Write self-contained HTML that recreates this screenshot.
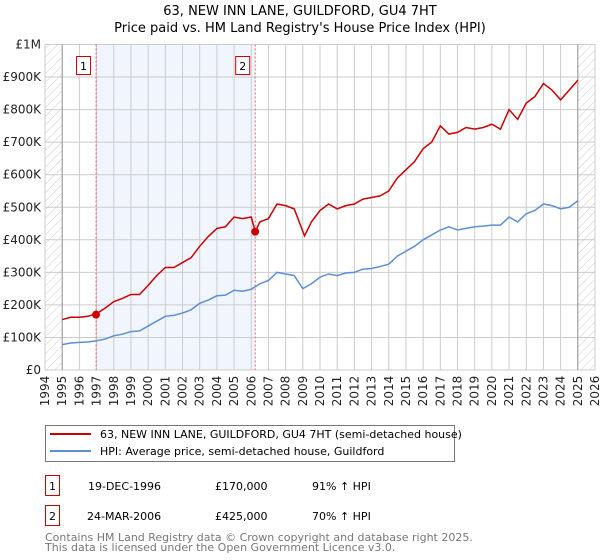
<!DOCTYPE html>
<html><head><meta charset="utf-8"><style>
body{margin:0;background:#fff;font-family:"Liberation Sans","DejaVu Sans",sans-serif;}
#c{position:relative;width:600px;height:560px;}
</style></head><body>
<div id="c">
<svg id="s" width="600" height="560" xmlns="http://www.w3.org/2000/svg" style="position:absolute;left:0;top:0;font-family:'DejaVu Sans','Liberation Sans',sans-serif">
<defs><pattern id="h" width="6" height="6" patternUnits="userSpaceOnUse" patternTransform="rotate(45)"><line x1="0" y1="0" x2="0" y2="6" stroke="#ccc" stroke-width="1"/></pattern></defs>
<text x="300" y="15" text-anchor="middle" font-size="13">63, NEW INN LANE, GUILDFORD, GU4 7HT</text>
<text x="300" y="32" text-anchor="middle" font-size="13">Price paid vs. HM Land Registry's House Price Index (HPI)</text>
<g id="plot"></g>
</svg>
<svg width="600" height="560" style="position:absolute;left:0;top:0;font-family:'DejaVu Sans','Liberation Sans',sans-serif">
<g>
<rect x="45.5" y="425.5" width="409" height="36" fill="#fff" stroke="#777"/>
<line x1="50" y1="434" x2="91" y2="434" stroke="#cc0000" stroke-width="2"/>
<text x="100" y="438" font-size="11">63, NEW INN LANE, GUILDFORD, GU4 7HT (semi-detached house)</text>
<line x1="50" y1="451" x2="91" y2="451" stroke="#5b8fd6" stroke-width="2"/>
<text x="100" y="455" font-size="11">HPI: Average price, semi-detached house, Guildford</text>
</g>
<g>
<rect x="45.5" y="475.5" width="14" height="20" fill="#fff" stroke="#cc0000"/>
<text x="52.5" y="490" font-size="11" text-anchor="middle">1</text>
<text x="88" y="490" font-size="11">19-DEC-1996</text>
<text x="215" y="490" font-size="11">£170,000</text>
<text x="312" y="490" font-size="11">91% ↑ HPI</text>
</g>
<g>
<rect x="45.5" y="505.5" width="14" height="20" fill="#fff" stroke="#cc0000"/>
<text x="52.5" y="520" font-size="11" text-anchor="middle">2</text>
<text x="87" y="520" font-size="11">24-MAR-2006</text>
<text x="215" y="520" font-size="11">£425,000</text>
<text x="312" y="520" font-size="11">70% ↑ HPI</text>
</g>
<text x="45" y="541" font-size="11" fill="#777">Contains HM Land Registry data © Crown copyright and database right 2025.</text>
<text x="45" y="551" font-size="11" fill="#777">This data is licensed under the Open Government Licence v3.0.</text>
</svg>
</div>
<script>
const years=[1995,1995.5,1996,1996.5,1997,1997.5,1998,1998.5,1999,1999.5,2000,2000.5,2001,2001.5,2002,2002.5,2003,2003.5,2004,2004.5,2005,2005.5,2006,2006.5,2007,2007.5,2008,2008.5,2009,2009.5,2010,2010.5,2011,2011.5,2012,2012.5,2013,2013.5,2014,2014.5,2015,2015.5,2016,2016.5,2017,2017.5,2018,2018.5,2019,2019.5,2020,2020.5,2021,2021.5,2022,2022.5,2023,2023.5,2024,2024.5,2025];
const hpi=[78,83,85,86,90,95,105,110,118,120,135,150,165,168,175,185,205,215,228,230,245,242,248,265,275,300,295,290,250,265,285,295,290,298,300,310,312,318,325,350,365,380,400,415,430,440,430,435,440,442,445,445,470,455,480,490,510,505,495,500,520];
const propYears=[1995,1995.5,1996,1996.5,1997,1997.5,1998,1998.5,1999,1999.5,2000,2000.5,2001,2001.5,2002,2002.5,2003,2003.5,2004,2004.5,2005,2005.5,2006,2006.23,2006.5,2007,2007.5,2008,2008.5,2009.1,2009.5,2010,2010.5,2011,2011.5,2012,2012.5,2013,2013.5,2014,2014.5,2015,2015.5,2016,2016.5,2017,2017.5,2018,2018.5,2019,2019.5,2020,2020.5,2021,2021.5,2022,2022.5,2023,2023.5,2024,2024.5,2025];
const prop=[155,162,162,165,173,190,210,220,232,232,260,290,315,315,330,345,380,410,435,440,470,465,470,425,455,465,510,505,495,412,455,490,510,495,505,510,525,530,535,550,590,615,640,680,700,750,725,730,745,740,745,755,740,800,770,820,840,880,860,830,860,890];
const saleYears=[1996.97,2006.23];
const salePrices=[170,425];
const saleLabels=["1","2"];
const yTicks=[0,100,200,300,400,500,600,700,800,900,1000];
const yTickLabels=["£0","£100K","£200K","£300K","£400K","£500K","£600K","£700K","£800K","£900K","£1M"];
const xTicks=[1994,1995,1996,1997,1998,1999,2000,2001,2002,2003,2004,2005,2006,2007,2008,2009,2010,2011,2012,2013,2014,2015,2016,2017,2018,2019,2020,2021,2022,2023,2024,2025,2026];
const L=45,R=595,T=44.5,B=370;
const X=y=>L+(y-1994)/32*(R-L);
const Y=v=>B-v/1000*(B-T);
const NS="http://www.w3.org/2000/svg";
const g=document.getElementById('plot');
function mk(t,a,p){const e=document.createElementNS(NS,t);for(const k in a)e.setAttribute(k,a[k]);(p||g).appendChild(e);return e;}
let e;
e=mk('rect',{x:L,y:T,width:X(1995)-L,height:B-T,fill:'url(#h)'});


e=mk('rect',{x:X(2025),y:T,width:R-X(2025),height:B-T,fill:'url(#h)'});


e=mk('rect',{x:X(saleYears[0]),y:T,width:X(saleYears[1])-X(saleYears[0]),height:B-T,fill:'#eef3fc',opacity:0.8});


xTicks.forEach(t=>{e=mk('line',{x1:X(t),x2:X(t),y1:T,y2:B,stroke:'#ccc'});


e=mk('text',{x:0,y:0,transform:`translate(${X(t)+4},${B+21}) rotate(-90)`,'font-size':12,'text-anchor':'middle',fill:'#222'});e.textContent=t;

});
yTicks.forEach((t,i)=>{e=mk('line',{x1:L,x2:R,y1:Y(t),y2:Y(t),stroke:'#ccc'});


e=mk('text',{x:L-4,y:Y(t)+4,'font-size':12,'text-anchor':'end',fill:'#222'});e.textContent=yTickLabels[i];

});
[1995,2025].forEach(t=>{e=mk('line',{x1:X(t),x2:X(t),y1:T,y2:B,stroke:'#999'});

});
saleYears.forEach((s,i)=>{e=mk('line',{x1:X(s),x2:X(s),y1:T,y2:B,stroke:'#e66','stroke-dasharray':'2,2'});


e=mk('rect',{x:X(s)-19.5,y:56.5,width:14,height:18,fill:'#fff',stroke:'#cc0000'});


e=mk('text',{x:X(s)-12.5,y:70,'font-size':11,'text-anchor':'middle'});e.textContent=saleLabels[i];

});
e=mk('polyline',{points:years.map((y,i)=>X(y)+','+Y(hpi[i])).join(' '),fill:'none',stroke:'#5b8fd6','stroke-width':1.5});


e=mk('polyline',{points:propYears.map((y,i)=>X(y)+','+Y(prop[i])).join(' '),fill:'none',stroke:'#cc0000','stroke-width':1.5});


saleYears.forEach((s,i)=>{e=mk('circle',{cx:X(s),cy:Y(salePrices[i]),r:4,fill:'#cc0000'});

});
</script>
</body></html>
